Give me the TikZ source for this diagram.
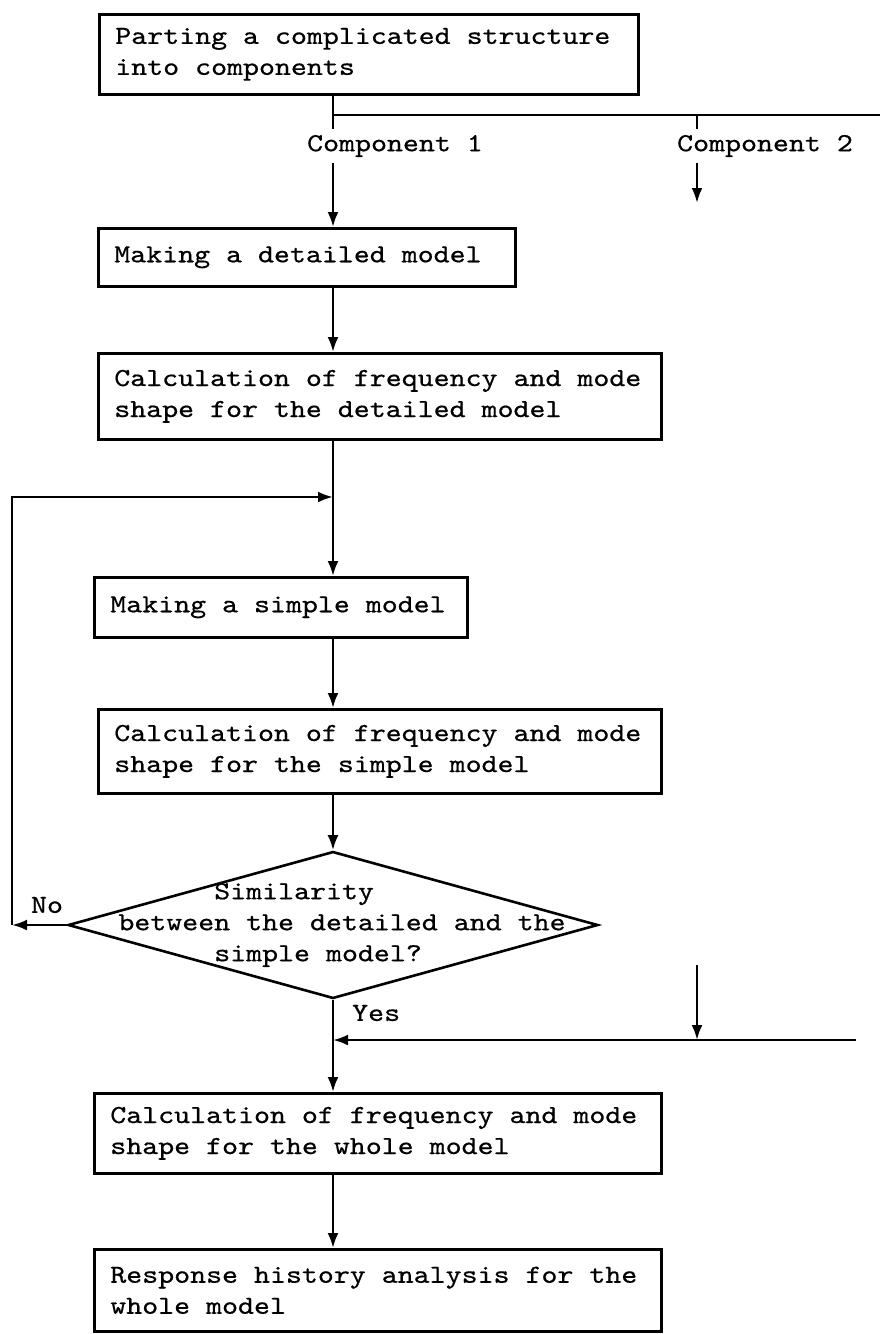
\documentclass[tikz,border=0pt]{standalone}
\usepackage{fontspec}
\usetikzlibrary{shapes.geometric,arrows.meta}
\newfontfamily\tw{lmmono10-regular.otf}[FakeStretch=1.17, FakeBold=0.6]
\begin{document}
\begin{tikzpicture}[x=1pt,y=1pt,
  every node/.style={font=\tw\fontsize{26pt}{31pt}\selectfont},
  proc/.style={draw, line width=2.6pt, anchor=north west, align=flush left, inner xsep=16pt, inner ysep=0pt},
  line/.style={line width=2.6pt},
  arr/.style={line width=2.6pt, -{Latex[length=15pt,width=11pt]}},
  decision/.style={draw, diamond, line width=2.6pt, inner sep=0pt, minimum width=530pt, minimum height=147pt},
  lbl/.style={inner sep=0pt}]
\useasboundingbox (0,0) rectangle (880,-1334);
\coordinate (col) at (333,0);

% boxes
\node[proc, text width=507pt, minimum height=80pt] (b1) at (98,-13) {Parting a complicated structure\\into components};
\node[proc, text width=385pt, minimum height=58pt] (b2) at (97,-227) {Making a detailed model};
\node[proc, text width=531pt, minimum height=86pt] (b3) at (97,-352) {Calculation of frequency and mode\\shape for the detailed model};
\node[proc, text width=341pt, minimum height=60pt] (b4) at (93,-576) {Making a simple model};
\node[proc, text width=531pt, minimum height=84pt] (b5) at (97,-708) {Calculation of frequency and mode\\shape for the simple model};
\node[decision] (dia) at (333,-925) {};
\node[lbl, align=left] (dtxt) at (342,-925) {\phantom{xxxxxx}Similarity\\between the detailed and the\\\phantom{xxxxxx}simple model?};
\node[proc, text width=535pt, minimum height=80pt] (b6) at (93,-1092) {Calculation of frequency and mode\\shape for the whole model};
\node[proc, text width=535pt, minimum height=82pt] (b7) at (93,-1248) {Response history analysis for the\\whole model};

% labels
\node[lbl, inner ysep=6pt] (c1) at (395,-146) {Component 1};
\node[lbl, inner ysep=6pt] (c2) at (765,-146) {Component 2};
\node[lbl, anchor=center] (no) at (47,-905) {No};
\node[lbl, anchor=west] (yes) at (352,-1013) {Yes};

% coordinates
\coordinate (j1) at (333,-115);
\coordinate (jr) at (880,-115);
\coordinate (j2) at (697,-115);
\coordinate (c2end) at (697,-203);
\coordinate (loopTL) at (12,-497);
\coordinate (loopJ) at (333,-497);
\coordinate (r2top) at (697,-965);
\coordinate (rin) at (856,-1040);
\coordinate (yj) at (333,-1040);

% connectors
\draw[line] (b1.south -| col) -- (j1) -- (jr);
\draw[line] (j1) -- (c1.north -| col);
\draw[arr] (c1.south -| col) -- (b2.north -| col);
\draw[line] (j2) -- (c2.north -| j2);
\draw[arr] (c2.south -| j2) -- (c2end);
\draw[arr] (b2.south -| col) -- (b3.north -| col);
\draw[arr] (b3.south -| col) -- (b4.north -| col);
\draw[arr] (b4.south -| col) -- (b5.north -| col);
\draw[arr] (b5.south -| col) -- (dia.north);
\draw[arr] (dia.west) -- (dia.west -| loopTL);
\draw[arr] (dia.west -| loopTL) -- (loopTL) -- (loopJ);
\draw[arr] (dia.south) -- (b6.north -| col);
\draw[arr] (r2top) -- (r2top |- rin);
\draw[arr] (rin) -- (yj);
\draw[arr] (b6.south -| col) -- (b7.north -| col);
\end{tikzpicture}
\end{document}
